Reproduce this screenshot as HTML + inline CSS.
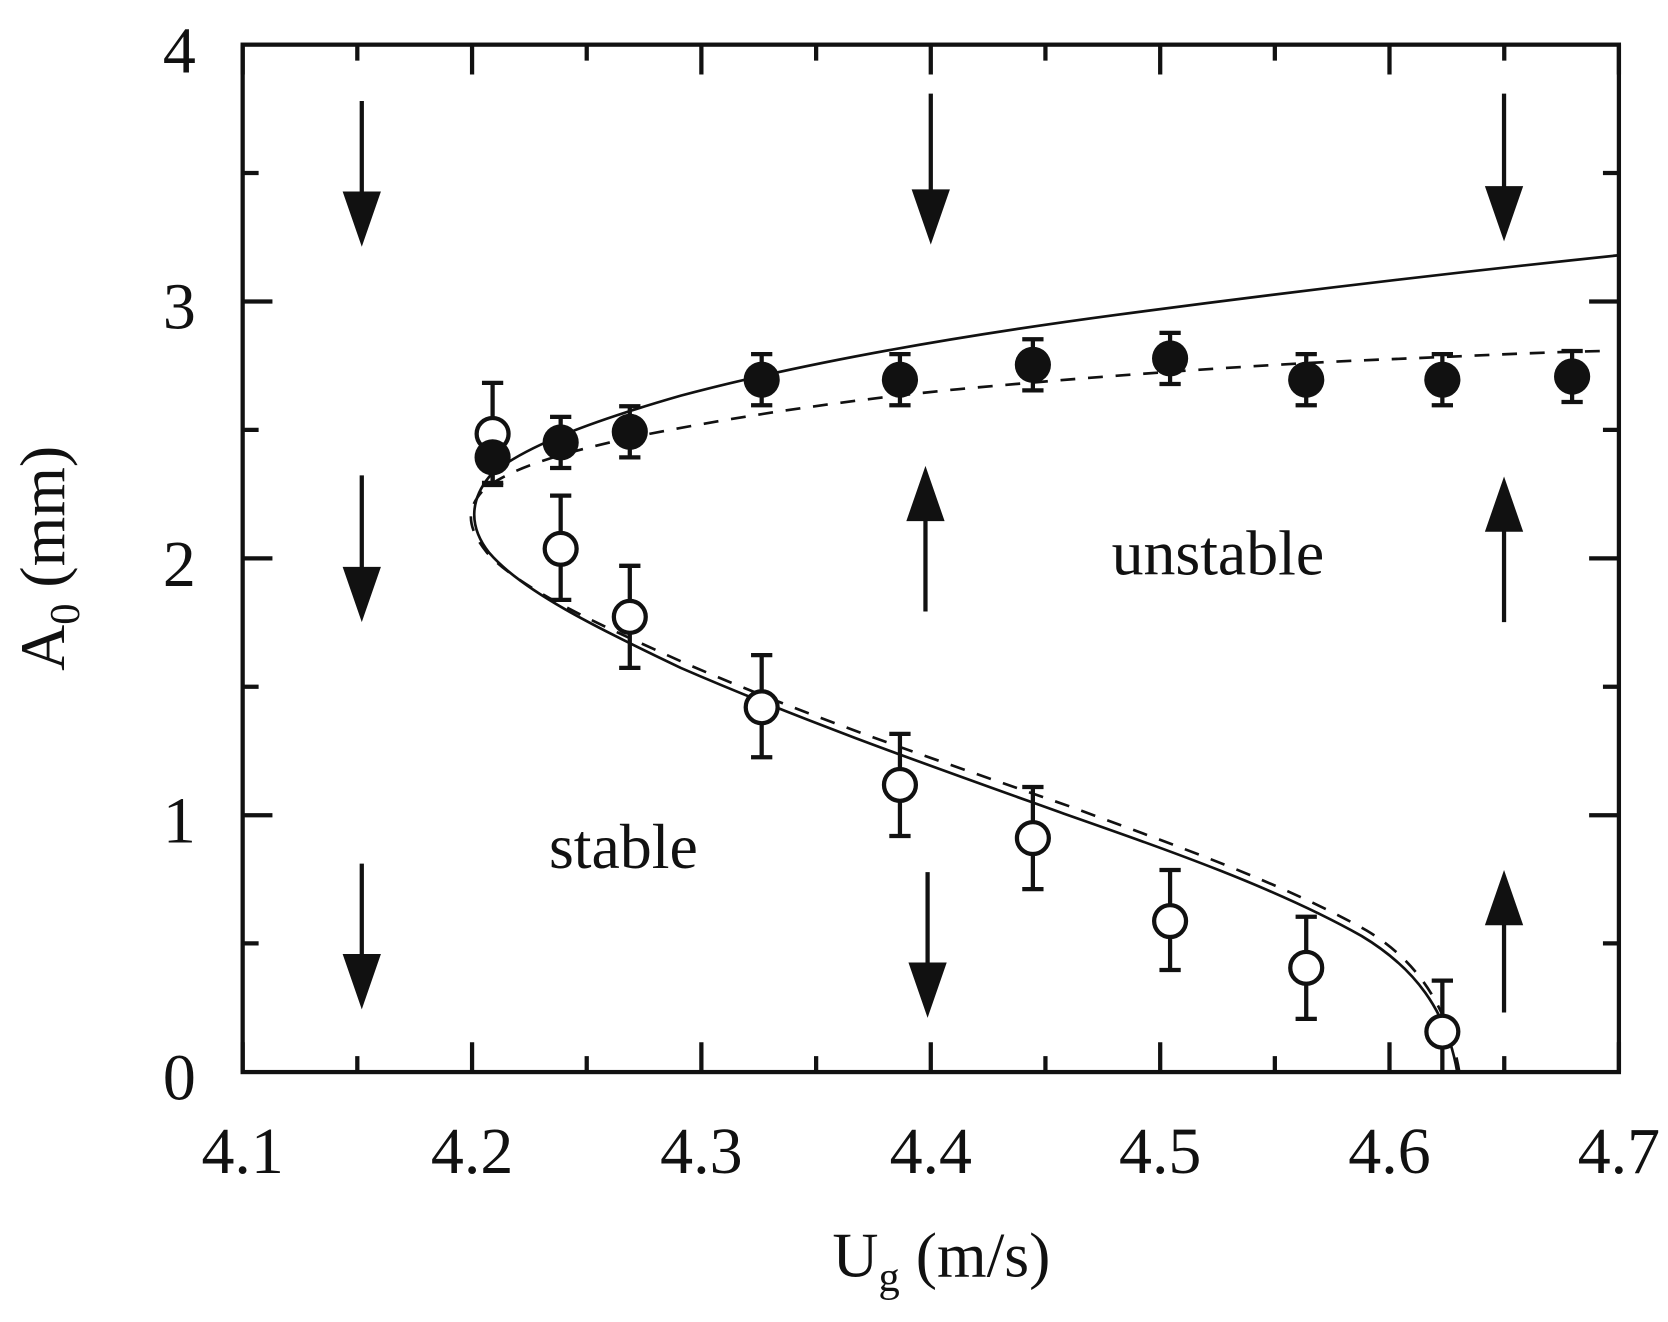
<!DOCTYPE html>
<html><head><meta charset="utf-8"><style>html,body{margin:0;padding:0;background:#fff}svg{display:block}</style></head>
<body>
<svg width="1668" height="1322" viewBox="0 0 1568 1243" xmlns="http://www.w3.org/2000/svg" font-family="'Liberation Serif',serif" fill="#111">
<rect width="1568" height="1243" fill="#fff"/>
<g stroke="#111" stroke-width="4" fill="none">
<rect x="228" y="42" width="1294" height="966"/>
<path d="M228,1008v-28M443.7,1008v-28M659.3,1008v-28M875,1008v-28M1090.7,1008v-28M1306.3,1008v-28M1522,1008v-28
M335.8,1008v-15M551.5,1008v-15M767.2,1008v-15M982.8,1008v-15M1198.5,1008v-15M1414.2,1008v-15
M228,42v28M443.7,42v28M659.3,42v28M875,42v28M1090.7,42v28M1306.3,42v28M1522,42v28
M335.8,42v15M551.5,42v15M767.2,42v15M982.8,42v15M1198.5,42v15M1414.2,42v15
M228,766.5h28M228,525h28M228,283.5h28M228,887h15M228,645.7h15M228,404.2h15M228,162.7h15
M1522,766.5h-28M1522,525h-28M1522,283.5h-28M1522,887h-15M1522,645.7h-15M1522,404.2h-15M1522,162.7h-15"/>
</g>
<g font-size="62" text-anchor="end">
<text x="184" y="1034">0</text><text x="184" y="792">1</text><text x="184" y="551">2</text><text x="184" y="309">3</text><text x="184" y="68">4</text>
</g>
<g font-size="62" text-anchor="middle">
<text x="228" y="1103">4.1</text><text x="443.7" y="1103">4.2</text><text x="659.3" y="1103">4.3</text><text x="875" y="1103">4.4</text><text x="1090.7" y="1103">4.5</text><text x="1306.3" y="1103">4.6</text><text x="1522" y="1103">4.7</text>
</g>
<text x="885" y="1200" font-size="60" text-anchor="middle">U<tspan font-size="40" dy="14">g</tspan><tspan dy="-14"> (m/s)</tspan></text>
<text transform="translate(60,525) rotate(-90)" font-size="60" text-anchor="middle">A<tspan font-size="40" dy="14">0</tspan><tspan dy="-14"> (mm)</tspan></text>
<text x="516" y="816" font-size="60">stable</text>
<text x="1045" y="540" font-size="60">unstable</text>
<path d="M1370,1008 C1360,950 1330,910 1280,880 C1200,835 1100,800 1000,765 C880,722 760,680 640,628 C560,590 490,555 460,520 C440,495 442,470 460,448 C490,420 560,395 640,372 C760,340 900,316 1050,296 C1200,276 1350,258 1522,240" fill="none" stroke="#111" stroke-width="2.5"/>
<path d="M1372,1008 C1362,950 1335,905 1285,875 C1205,830 1105,795 1005,758 C885,716 765,676 645,624 C565,588 490,555 458,520 C438,495 438,478 455,460 C480,440 530,425 600,410 C700,390 800,376 900,366 C1050,352 1200,342 1300,338 C1400,334 1450,331 1510,330" fill="none" stroke="#111" stroke-width="2.5" stroke-dasharray="14,12"/>
<g stroke="#111" stroke-width="4" fill="none">
<path d="M463,360V456M453,360h20M453,456h20 M527,466V564M517,466h20M517,564h20 M592,532V628M582,532h20M582,628h20 M716,616V712M706,616h20M706,712h20 M846,690V786M836,690h20M836,786h20 M971,740V836M961,740h20M961,836h20 M1100,818V912M1090,818h20M1090,912h20 M1228,862V958M1218,862h20M1218,958h20 M1356,922V1008M1346,922h20"/>
<path d="M463,406V454M453,454h20 M527,392V440M517,392h20M517,440h20 M592,382V430M582,382h20M582,430h20 M716,333V381M706,333h20M706,381h20 M846,333V381M836,333h20M836,381h20 M971,319V367M961,319h20M961,367h20 M1100,313V361M1090,313h20M1090,361h20 M1228,333V381M1218,333h20M1218,381h20 M1356,333V381M1346,333h20M1346,381h20 M1478,330V378M1468,330h20M1468,378h20"/>
<g fill="#fff"><circle cx="463" cy="408" r="15"/><circle cx="527" cy="516" r="15"/><circle cx="592" cy="580" r="15"/><circle cx="716" cy="665" r="15"/><circle cx="846" cy="738" r="15"/><circle cx="971" cy="788" r="15"/><circle cx="1100" cy="866" r="15"/><circle cx="1228" cy="910" r="15"/><circle cx="1356" cy="970" r="15"/></g>
</g>
<g fill="#111"><circle cx="463" cy="430" r="17"/><circle cx="527" cy="416" r="17"/><circle cx="592" cy="406" r="17"/><circle cx="716" cy="357" r="17"/><circle cx="846" cy="357" r="17"/><circle cx="971" cy="343" r="17"/><circle cx="1100" cy="337" r="17"/><circle cx="1228" cy="357" r="17"/><circle cx="1356" cy="357" r="17"/><circle cx="1478" cy="354" r="17"/></g>
<g stroke="#111" stroke-width="4">
<path d="M340,95V190M340,447V540M340,812V905M875,88V185M872,820V915M1414,88V185M870,575V480M1414,585V492M1414,952V860"/>
</g>
<g fill="#111">
<path d="M322,180h36l-18,52z M322,533h36l-18,52z M322,897h36l-18,52z M857,178h36l-18,52z M854,905h36l-18,52z M1396,175h36l-18,52z M852,490h36l-18,-52z M1396,500h36l-18,-52z M1396,870h36l-18,-52z"/>
</g>
</svg>
</body></html>
